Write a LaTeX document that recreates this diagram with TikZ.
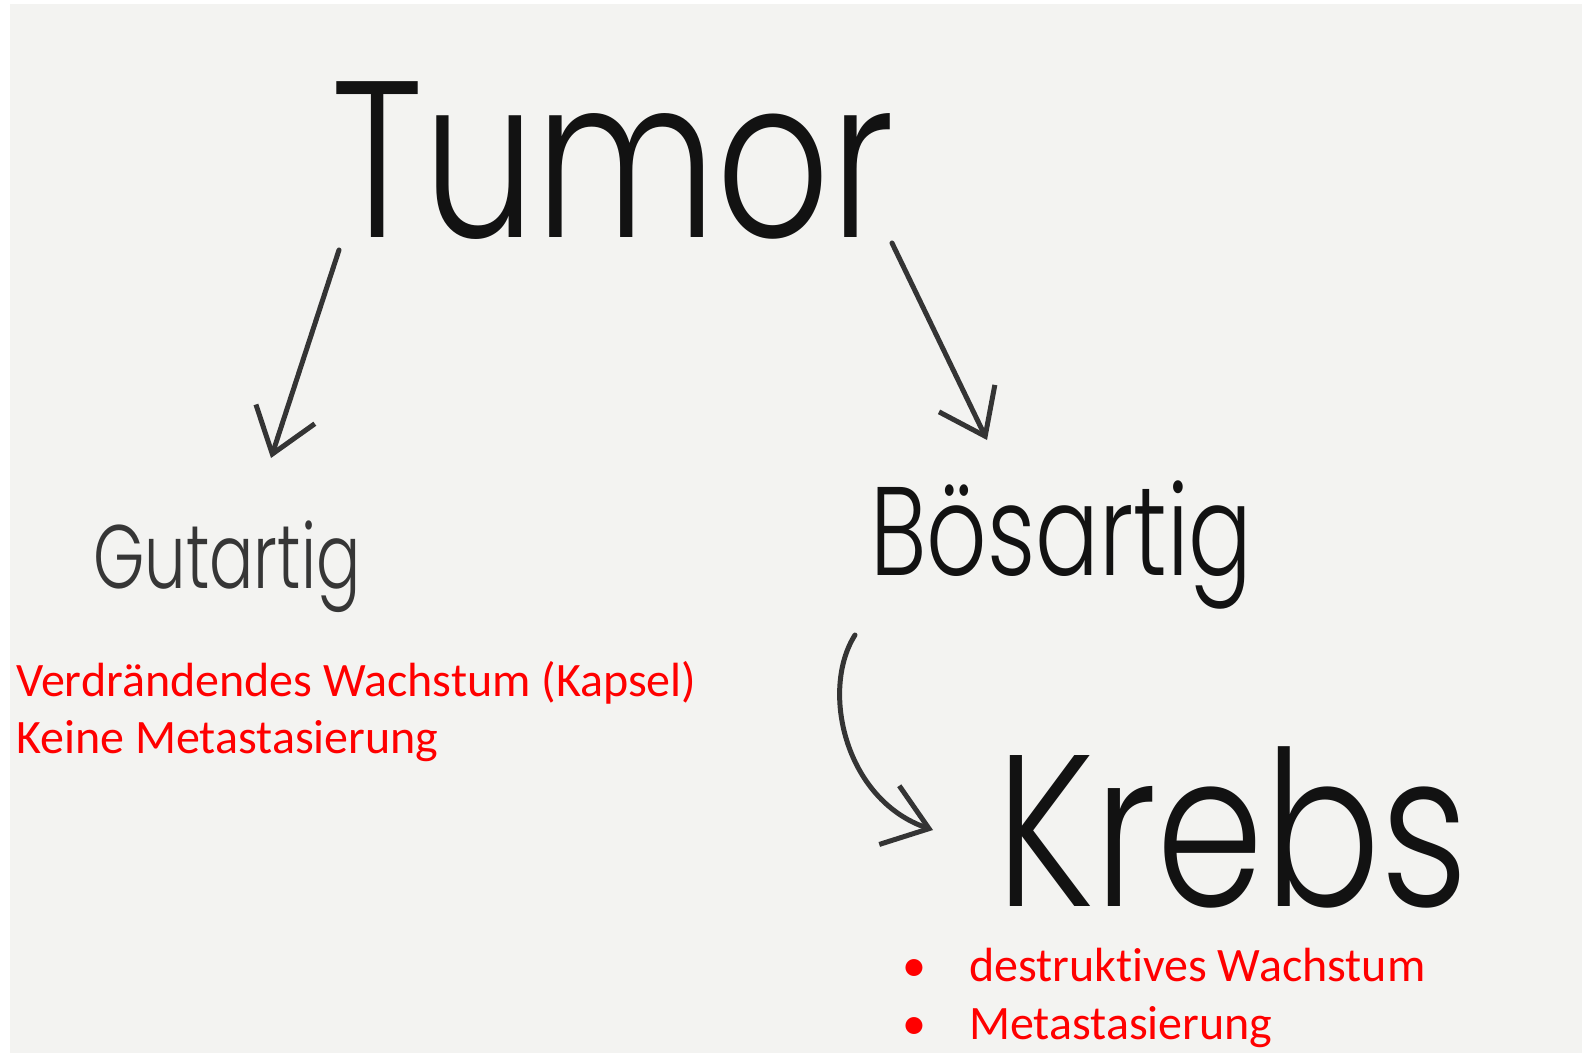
\documentclass[tikz,border=0pt]{standalone}
\usepackage{fontspec}
\IfFontExistsTF{Poppins Light}{\setmainfont{Poppins Light}}{\setmainfont{Poppins}}
\newfontfamily\calibri{Carlito}[Ligatures=NoCommon]
\usetikzlibrary{arrows.meta}
\definecolor{PaperGray}{RGB}{243,243,241}
\definecolor{InkBlack}{RGB}{18,18,18}
\definecolor{PencilGray}{RGB}{52,52,52}
\definecolor{NoteRed}{RGB}{255,0,0}

\begin{document}
\begin{tikzpicture}[x=1pt, y=-1pt,
    word/.style={inner sep=0pt, anchor=base west, text=InkBlack},
    note/.style={inner sep=0pt, anchor=base west, text=NoteRed, font=\calibri\fontsize{48}{58}\selectfont},
    sketch/.style={-{Straight Barb[length=42pt,width=62pt]}, line width=5pt, draw=PencilGray, line cap=round}
  ]
    % paper
    \fill[white] (0,0) rectangle (1582,1053);
    \fill[PaperGray] (10,4) rectangle (1582,1053);
    \useasboundingbox (0,0) rectangle (1582,1053);

    % words
    \node[word, xscale=0.795, font=\fontsize{223}{260}\selectfont] (tumor) at (331,237) {Tumor};
    \node[word, xscale=0.73, font=\fontsize{90}{100}\selectfont, text=InkBlack!85] (gut) at (93,588) {Gutartig};
    \node[word, xscale=0.75, font=\fontsize{126}{140}\selectfont] (bos) at (870,575) {Bösartig};
    \node[word, xscale=0.80, text depth=0pt, font=\fontsize{216}{250}\selectfont] (krebs) at (996,906) {Krebs};

    % notes
    \node[note] (verd) at (16,696) {Verdrändendes Wachstum (Kapsel)};
    \node[note] (keine) at (16,753) {Keine Metastasierung};
    \node[note] (dot1) at (902,981) {•};
    \node[note] (destr) at (969,981) {destruktives Wachstum};
    \node[note] (dot2) at (902,1039) {•};
    \node[note] (meta) at (969,1039) {Metastasierung};

    % arrow ends
    \coordinate (tumorL) at (339,250);
    \coordinate (gutTop) at (271,458);
    \coordinate (tumorR) at (892,243);
    \coordinate (bosTop) at (987,440);
    \coordinate (bosLow) at (855,635);
    \coordinate (krebsL) at (933,830);

    \draw[sketch] (tumorL) -- (gutTop);
    \draw[sketch] (tumorR) -- (bosTop);
    \draw[sketch] (bosLow) .. controls (820,690) and (845,800) .. (krebsL);
  \end{tikzpicture}
\end{document}
